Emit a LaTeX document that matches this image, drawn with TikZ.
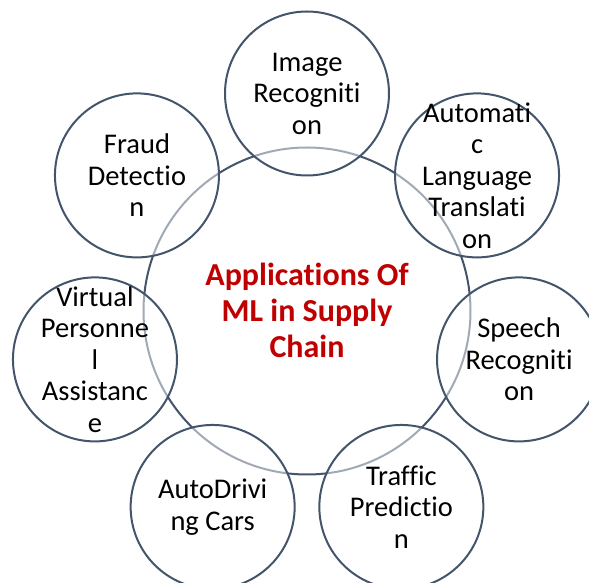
\documentclass[tikz,border=0pt]{standalone}
\usepackage{fontspec}
\setmainfont{Carlito}[Ligatures={NoCommon,NoContextual}]
\usetikzlibrary{positioning, calc}
\definecolor{ringgray}{HTML}{44546A}
\definecolor{hubred}{HTML}{C00000}

\begin{document}
\begin{tikzpicture}
        [
            x=1pt, y=1pt,
            hub/.style={circle, draw=ringgray, line width=2pt, minimum size=327pt, inner sep=0pt},
            sat/.style={circle, draw=ringgray, line width=2pt, fill=white, fill opacity=0.5, draw opacity=1, minimum size=164pt, inner sep=0pt},
            sattext/.style={align=center, text=black, font=\fontsize{28.5}{31.5}\selectfont},
            hubtext/.style={align=center, text=hubred, font=\fontsize{32}{36}\selectfont\bfseries},
        ]
        \useasboundingbox (-307,311) rectangle (282,-272);
        \clip (-307,311) rectangle (282,-272);

        % centre ring first, satellites over it
        \node[hub] (hub) at (0,0) {};
        \node[sat] (image)   at ($(hub)+(90:217.5)$) {};
        \node[sat] (transl)  at ($(hub)+(38.57:217.5)$) {};
        \node[sat] (speech)  at ($(hub)+(-12.86:217.5)$) {};
        \node[sat] (traffic) at ($(hub)+(-64.29:217.5)$) {};
        \node[sat] (driving) at ($(hub)+(-115.71:217.5)$) {};
        \node[sat] (virtual) at ($(hub)+(-167.14:217.5)$) {};
        \node[sat] (fraud)   at ($(hub)+(141.43:217.5)$) {};

        % texts
        \node[hubtext] (hubname) at (0,1) {Applications Of\\ML in Supply\\Chain};
        \node[sattext] (imagename)   at (image)   {Image\\Recogniti\\on};
        \node[sattext] (translname)  at (transl)  {Automati\\c\\Language\\Translati\\on};
        \node[sattext] (speechname)  at (speech)  {Speech\\Recogniti\\on};
        \node[sattext] (trafficname) at (traffic) {Traffic\\Predictio\\n};
        \node[sattext] (drivingname) at (driving) {AutoDrivi\\ng Cars};
        \node[sattext] (virtualname) at (virtual) {Virtual\\Personne\\l\\Assistanc\\e};
        \node[sattext] (fraudname)   at (fraud)   {Fraud\\Detectio\\n};
\end{tikzpicture}
\end{document}
